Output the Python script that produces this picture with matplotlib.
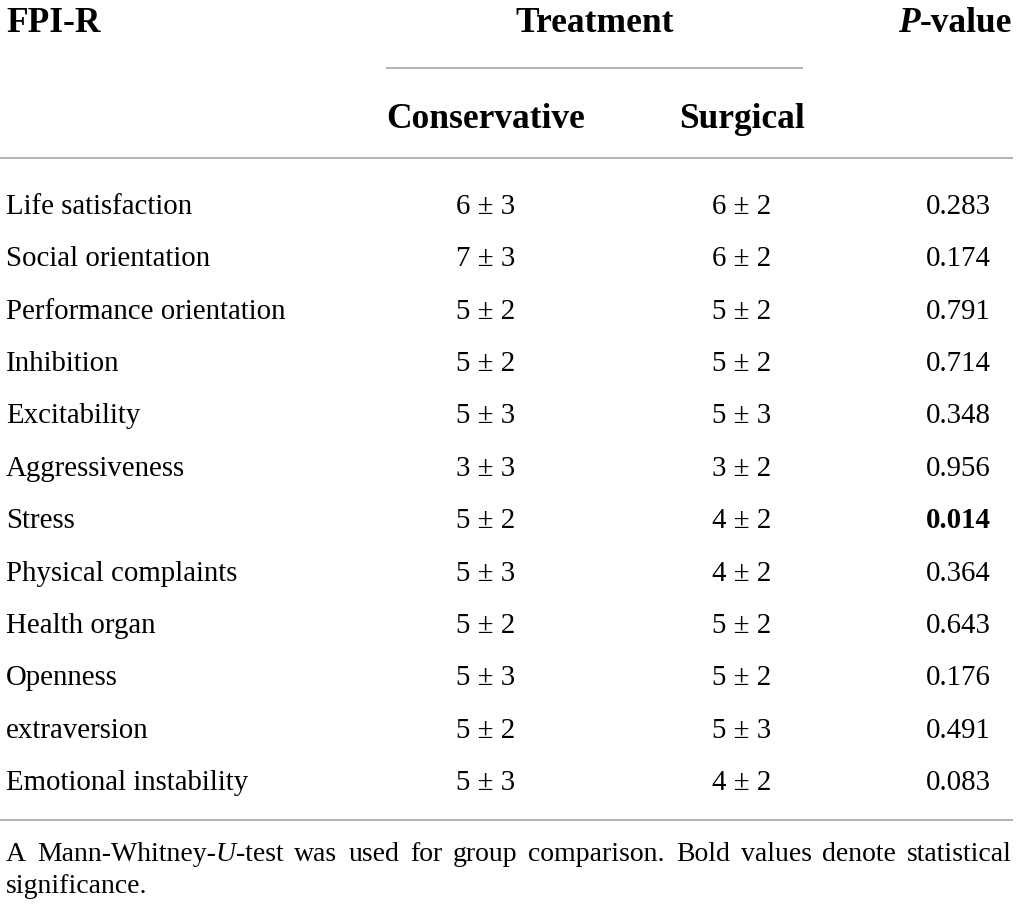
import matplotlib
matplotlib.use("Agg")
import matplotlib.pyplot as plt

# table content
header_left = "FPI-R"
header_group = "Treatment"
header_right = "-value"
sub_headers = ["Conservative", "Surgical"]
traits = ["Life satisfaction", "Social orientation", "Performance orientation",
          "Inhibition", "Excitability", "Aggressiveness", "Stress",
          "Physical complaints", "Health organ", "Openness", "extraversion",
          "Emotional instability"]
conservative = ["6 ± 3", "7 ± 3", "5 ± 2", "5 ± 2", "5 ± 3", "3 ± 3",
                "5 ± 2", "5 ± 3", "5 ± 2", "5 ± 3", "5 ± 2", "5 ± 3"]
surgical = ["6 ± 2", "6 ± 2", "5 ± 2", "5 ± 2", "5 ± 3", "3 ± 2",
            "4 ± 2", "4 ± 2", "5 ± 2", "5 ± 2", "5 ± 3", "4 ± 2"]
p_values = ["0.283", "0.174", "0.791", "0.714", "0.348", "0.956",
            "0.014", "0.364", "0.643", "0.176", "0.491", "0.083"]
significant = ["0.014"]
footnote_line1 = [("A", "normal"), ("Mann-Whitney-", "normal"), ("U", "italic"),
                  ("-test", "normal"), ("was", "normal"), ("used", "normal"),
                  ("for", "normal"), ("group", "normal"), ("comparison.", "normal"),
                  ("Bold", "normal"), ("values", "normal"), ("denote", "normal"),
                  ("statistical", "normal")]
# pieces glued to the previous one (no space before)
glued = [False, False, True, True, False, False, False, False, False, False, False, False, False]
footnote_line2 = "significance."

W, H = 1017, 911
FONT = "Liberation Serif"
BODY = 20.8
HEAD = 25.5
LINE_C = "#b3b3b3"

fig = plt.figure(figsize=(W / 100, H / 100), dpi=100)
ax = fig.add_axes([0, 0, 1, 1])
ax.set_xlim(0, W)
ax.set_ylim(H, 0)
ax.axis("off")

left_x = 6
right_x = 1012
col_cons = 486
col_surg = 742
col_p = 958

# header
ax.text(left_x, 32, header_left, fontsize=HEAD, fontweight="bold", family=FONT, va="baseline")
ax.text(595, 32, header_group, fontsize=HEAD, fontweight="bold", family=FONT,
        ha="center", va="baseline")
t_val = ax.text(right_x, 32, header_right, fontsize=HEAD, fontweight="bold", family=FONT,
                ha="right", va="baseline")
fig.canvas.draw()
renderer = fig.canvas.get_renderer()
inv = ax.transData.inverted()
bb = t_val.get_window_extent(renderer)
x0 = inv.transform((bb.x0, 0))[0]
ax.text(x0, 32, "P", fontsize=HEAD, fontweight="bold", fontstyle="italic", family=FONT,
        ha="right", va="baseline")

ax.plot([387, 802], [68, 68], color=LINE_C, lw=1.4)
ax.text(col_cons, 128, sub_headers[0], fontsize=HEAD, fontweight="bold", family=FONT,
        ha="center", va="baseline")
ax.text(col_surg, 128, sub_headers[1], fontsize=HEAD, fontweight="bold", family=FONT,
        ha="center", va="baseline")
ax.plot([0, right_x], [158, 158], color=LINE_C, lw=1.4)

# rows
base0 = 214
step = 52.36
for i, name in enumerate(traits):
    y = base0 + i * step
    ax.text(left_x, y, name, fontsize=BODY, family=FONT, va="baseline")
    ax.text(col_cons, y, conservative[i], fontsize=BODY, family=FONT, ha="center", va="baseline")
    ax.text(col_surg, y, surgical[i], fontsize=BODY, family=FONT, ha="center", va="baseline")
    wt = "bold" if p_values[i] in significant else "normal"
    ax.text(col_p, y, p_values[i], fontsize=BODY, family=FONT, fontweight=wt,
            ha="center", va="baseline")

ax.plot([0, right_x], [820, 820], color=LINE_C, lw=1.4)

# footnote, justified first line
FOOT = 20
fy1 = 861
fy2 = 893
pieces = []
for txt, style in footnote_line1:
    t = ax.text(0, fy1, txt, fontsize=FOOT, family=FONT, fontstyle=style, va="baseline")
    pieces.append(t)
fig.canvas.draw()
widths = []
for t in pieces:
    b = t.get_window_extent(renderer)
    widths.append(inv.transform((b.x1, 0))[0] - inv.transform((b.x0, 0))[0])
n_gaps = sum(1 for g in glued[1:] if not g)
gap = (right_x - left_x - sum(widths)) / n_gaps
x = left_x
for i, t in enumerate(pieces):
    if i > 0 and not glued[i]:
        x += gap
    t.set_x(x)
    x += widths[i]
ax.text(left_x, fy2, footnote_line2, fontsize=FOOT, family=FONT, va="baseline")

fig.savefig("out.png", dpi=100)
